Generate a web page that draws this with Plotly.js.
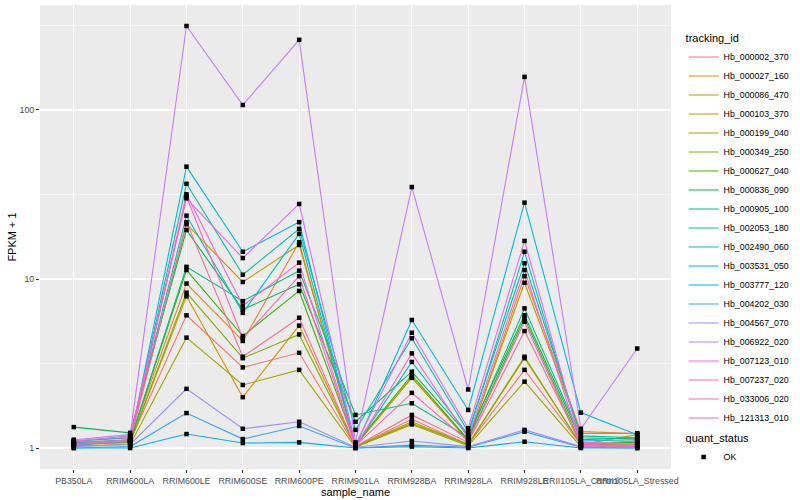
<!DOCTYPE html>
<html><head><meta charset="utf-8">
<script src="https://cdn.plot.ly/plotly-3.0.1.min.js"></script>
<style>html,body{margin:0;padding:0;background:#fff}#chart{width:800px;height:500px}</style>
</head><body><div id="chart"></div>
<script>
const sampleNames = ["PB350LA","RRIM600LA","RRIM600LE","RRIM600SE","RRIM600PE","RRIM901LA","RRIM928BA","RRIM928LA","RRIM928LE","RRII105LA_Control","RRII105LA_Stressed"];
const trackingIds = ["Hb_000002_370","Hb_000027_160","Hb_000086_470","Hb_000103_370","Hb_000199_040","Hb_000349_250","Hb_000627_040","Hb_000836_090","Hb_000905_100","Hb_002053_180","Hb_002490_060","Hb_003531_050","Hb_003777_120","Hb_004202_030","Hb_004567_070","Hb_006922_020","Hb_007123_010","Hb_007237_020","Hb_033006_020","Hb_121313_010"];
const seriesColors = ["#F8766D","#EA8331","#D89000","#C09B00","#A3A500","#7CAE00","#39B600","#00BB4E","#00BF7D","#00C1A3","#00BFC4","#00BAE0","#00B0F6","#35A2FF","#9590FF","#C77CFF","#E76BF3","#FA62DB","#FF62BC","#FF6C91"];

// FPKM + 1 per sample (same order as sampleNames)
const hb_000002_370 = [1.08, 1.10, 6.1, 3.0, 3.66, 1.02, 1.48, 1.05, 2.9, 1.05, 1.10];
const hb_000027_160 = [1.05, 1.12, 9.4, 4.3, 16.5, 1.03, 2.62, 1.10, 10.4, 1.25, 1.22];
const hb_000086_470 = [1.05, 1.08, 7.9, 2.0, 5.3, 1.02, 1.43, 1.05, 3.4, 1.05, 1.20];
const hb_000103_370 = [1.10, 1.15, 21.1, 9.6, 15.9, 1.04, 2.60, 1.12, 9.5, 1.22, 1.22];
const hb_000199_040 = [1.03, 1.05, 4.5, 2.36, 2.9, 1.01, 1.38, 1.03, 2.47, 1.02, 1.05];
const hb_000349_250 = [1.05, 1.08, 8.3, 3.4, 4.7, 1.02, 1.40, 1.05, 3.47, 1.04, 1.06];
const hb_000627_040 = [1.07, 1.10, 11.3, 4.6, 8.5, 1.05, 2.70, 1.12, 5.85, 1.06, 1.08];
const hb_000836_090 = [1.33, 1.23, 19.5, 6.6, 9.3, 1.43, 2.83, 1.19, 6.1, 1.12, 1.15];
const hb_000905_100 = [1.06, 1.10, 11.8, 7.4, 11.2, 1.57, 1.84, 1.15, 6.7, 1.15, 1.13];
const hb_002053_180 = [1.08, 1.12, 36.6, 10.6, 19.8, 1.28, 4.46, 1.25, 12.4, 1.18, 1.15];
const hb_002490_060 = [1.10, 1.15, 23.7, 6.3, 18.5, 1.03, 3.23, 1.20, 14.5, 1.10, 1.12];
const hb_003531_050 = [1.04, 1.10, 46.2, 14.5, 21.7, 1.02, 5.72, 1.68, 28.3, 1.62, 1.20];
const hb_003777_120 = [1.00, 1.00, 1.21, 1.07, 1.08, 1.00, 1.02, 1.00, 1.09, 1.00, 1.00];
const hb_004202_030 = [1.00, 1.02, 1.61, 1.13, 1.35, 1.00, 1.04, 1.01, 1.25, 1.01, 1.00];
const hb_004567_070 = [1.02, 1.05, 2.24, 1.30, 1.43, 1.01, 1.10, 1.02, 1.28, 1.02, 1.02];
const hb_006922_020 = [1.12, 1.20, 314, 107, 260, 1.08, 35, 2.22, 157, 1.30, 3.88];
const hb_007123_010 = [1.10, 1.18, 30.0, 13.3, 27.8, 1.05, 4.81, 1.31, 16.8, 1.08, 1.05];
const hb_007237_020 = [1.06, 1.12, 31.7, 6.96, 12.5, 1.02, 3.63, 1.15, 11.3, 1.05, 1.03];
const hb_033006_020 = [1.05, 1.10, 30.7, 4.46, 10.4, 1.03, 2.12, 1.10, 5.59, 1.03, 1.02];
const hb_121313_010 = [1.09, 1.10, 21.7, 3.47, 5.9, 1.02, 1.57, 1.08, 4.92, 1.06, 1.10];

const seriesValues = [hb_000002_370, hb_000027_160, hb_000086_470, hb_000103_370, hb_000199_040, hb_000349_250, hb_000627_040, hb_000836_090, hb_000905_100, hb_002053_180, hb_002490_060, hb_003531_050, hb_003777_120, hb_004202_030, hb_004567_070, hb_006922_020, hb_007123_010, hb_007237_020, hb_033006_020, hb_121313_010];
const quantStatus = "OK";
const yTickVals = [1, 10, 100];
const yTickText = ["1", "10", "100"];
const yMinorVals = [3.1623, 31.623, 316.23];

const traces = seriesValues.map((vals, i) => ({
  type: 'scatter', mode: 'lines', x: sampleNames, y: vals,
  name: trackingIds[i], legend: 'legend',
  line: {color: seriesColors[i], width: 1.1}, hoverinfo: 'skip'
}));
const px = [], py = [];
seriesValues.forEach(vals => vals.forEach((v, j) => { px.push(sampleNames[j]); py.push(v); }));
traces.push({
  type: 'scatter', mode: 'markers', x: px, y: py, name: quantStatus, legend: 'legend2',
  marker: {symbol: 'square', size: 4.5, color: '#000'}, hoverinfo: 'skip'
});

const layout = {
  width: 800, height: 500,
  margin: {l: 40, r: 117, t: 5, b: 31},
  paper_bgcolor: '#fff', plot_bgcolor: '#EBEBEB',
  font: {family: 'Liberation Sans, Arial, sans-serif', color: '#000'},
  showlegend: true,
  xaxis: {
    type: 'category', categoryorder: 'array', categoryarray: sampleNames,
    range: [-0.6, 10.6], showgrid: true, gridcolor: '#fff', gridwidth: 1.1,
    ticks: 'outside', ticklen: 3, tickcolor: '#333', tickwidth: 1, tickangle: 0,
    tickfont: {size: 8.8, color: '#4D4D4D'}, zeroline: false, showline: false, automargin: false,
    title: {text: 'sample_name', font: {size: 11, color: '#000'}, standoff: 0}
  },
  yaxis: {
    type: 'log', range: [-0.124, 2.621], tickmode: 'array', tickvals: yTickVals, ticktext: yTickText,
    showgrid: true, gridcolor: '#fff', gridwidth: 1.1,
    minor: {tickmode: 'array', tickvals: yMinorVals, showgrid: true, gridcolor: '#fff', gridwidth: 0.5, ticks: ''},
    ticks: 'outside', ticklen: 3, tickcolor: '#333', tickwidth: 1,
    tickfont: {size: 8.8, color: '#4D4D4D'}, zeroline: false, showline: false, automargin: false,
    title: {text: 'FPKM + 1', font: {size: 11, color: '#000'}, standoff: 0}
  },
  legend: {
    title: {text: 'tracking_id', font: {size: 11}}, x: 1.02, xanchor: 'left', y: 0.95, yanchor: 'top',
    font: {size: 8.8}, bgcolor: 'rgba(0,0,0,0)', itemwidth: 30, tracegroupgap: 0
  },
  legend2: {
    title: {text: 'quant_status', font: {size: 11}}, x: 1.02, xanchor: 'left', y: 0.088, yanchor: 'top',
    font: {size: 8.8}, bgcolor: 'rgba(0,0,0,0)', itemwidth: 30
  }
};
Plotly.newPlot('chart', traces, layout, {staticPlot: true, displayModeBar: false});
</script>
</body></html>
